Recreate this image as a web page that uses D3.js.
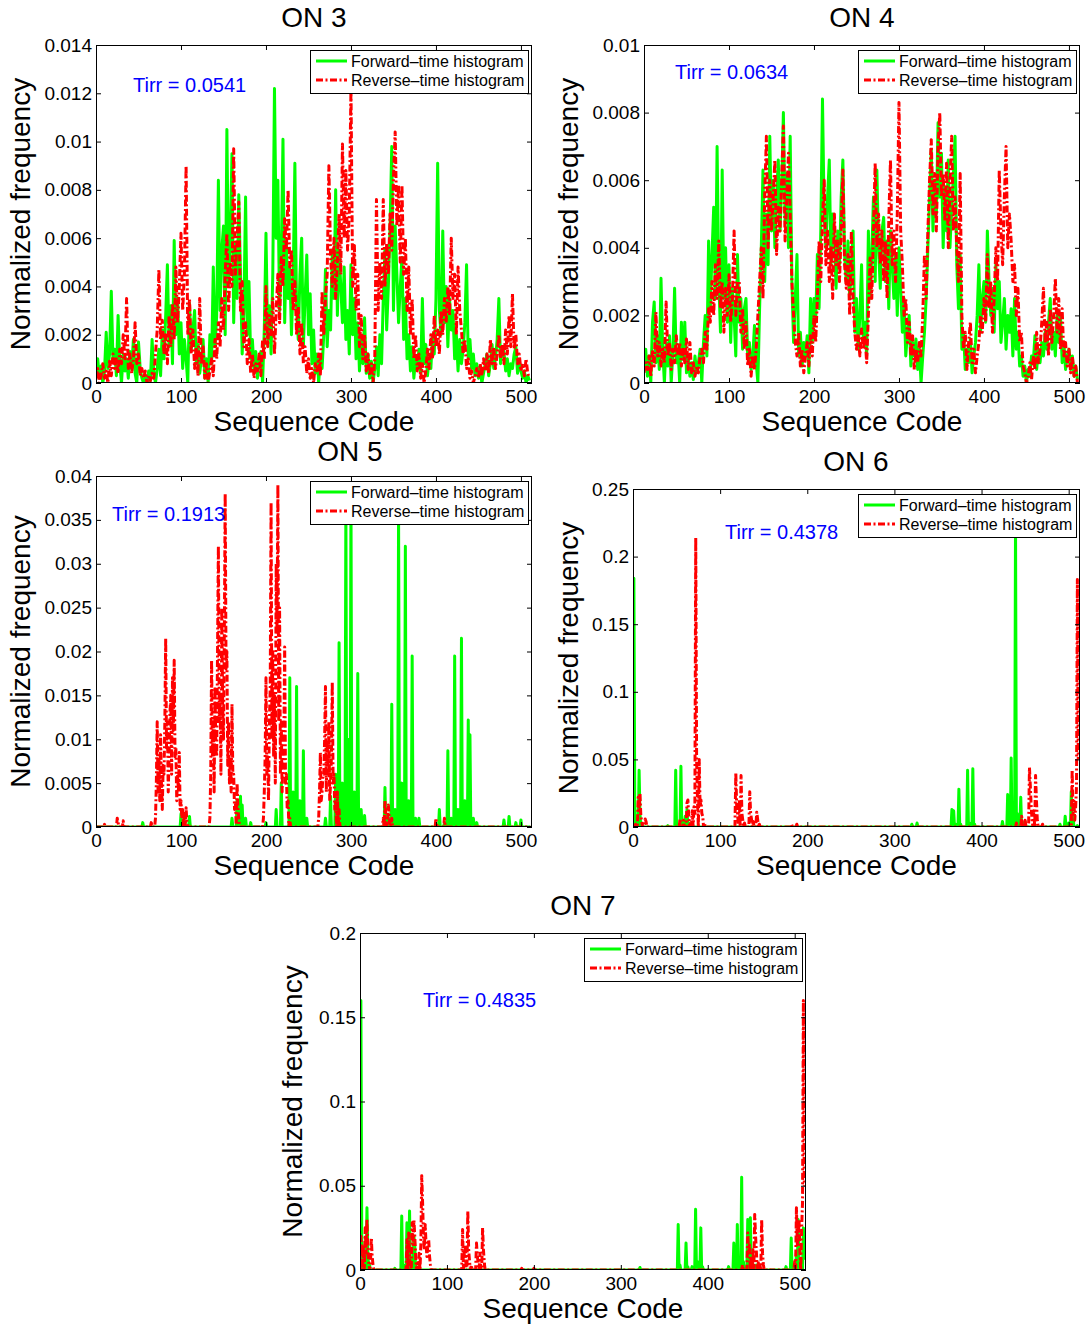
<!DOCTYPE html>
<html><head><meta charset="utf-8">
<script src="https://cdn.jsdelivr.net/npm/d3@7"></script>
<style>
body{margin:0;background:#fff}
text{font-family:"Liberation Sans",Arial,Helvetica,sans-serif;fill:#000}
</style></head>
<body><svg id="chart" width="1092" height="1326"></svg>
<script>
// ---------------- DATA ----------------
const titles = ["ON 3","ON 4","ON 5","ON 6","ON 7"];
const tirrValues = ["0.0541","0.0634","0.1913","0.4378","0.4835"];
const seriesNames = ["Forward\u2013time histogram","Reverse\u2013time histogram"];
const xTickValues = [0,100,200,300,400,500];
const xTickLabels = ["0","100","200","300","400","500"];
const on3YTicks = [0,0.002,0.004,0.006,0.008,0.01,0.012,0.014];
const on3YTickLabels = ["0","0.002","0.004","0.006","0.008","0.01","0.012","0.014"];
const on4YTicks = [0,0.002,0.004,0.006,0.008,0.01];
const on4YTickLabels = ["0","0.002","0.004","0.006","0.008","0.01"];
const on5YTicks = [0,0.005,0.01,0.015,0.02,0.025,0.03,0.035,0.04];
const on5YTickLabels = ["0","0.005","0.01","0.015","0.02","0.025","0.03","0.035","0.04"];
const on6YTicks = [0,0.05,0.1,0.15,0.2,0.25];
const on6YTickLabels = ["0","0.05","0.1","0.15","0.2","0.25"];
const on7YTicks = [0,0.05,0.1,0.15,0.2];
const on7YTickLabels = ["0","0.05","0.1","0.15","0.2"];

// Dense panels (ON 3, ON 4): values read at every second sequence code 0,2,...,510
const denseCodes = d3.range(0, 511, 2);
const on3Fwd = [
.0004,.001,.0002,.0007,0,.0005,.0021,.0006,.0012,.0038,
.0009,.0014,.0003,.0028,.0008,0,.0012,.0005,.001,.0002,
.0013,.0006,.0018,.0004,0,.0017,.0006,.0002,0,.0003,
0,.0005,.0001,.0018,.0004,0,.0006,.0014,.0003,.0022,
.001,.0028,.0049,.0015,.0032,.0008,.0059,.002,.0035,.0012,
.0025,.0006,.0018,.001,0,.0033,.0014,.0022,.003,.0008,
.0016,.0004,.001,.0018,.0002,.001,0,.002,.0008,.0048,
.0015,.0028,.0084,.003,.0055,.0065,.002,.0105,.004,.006,
.0095,.0025,.0058,.0035,.0078,.0045,.0012,.003,.0077,.002,
.0042,.001,.0018,.0005,.0013,.0002,.0009,.0013,0,.0022,
.0062,.0018,.0032,.0012,.0045,.0122,.006,.0084,.003,.0052,
.0101,.0025,.0058,.0035,.0048,.002,.0042,.0091,.003,.0018,
.0045,.006,.0015,.0035,.0053,.002,.0037,.0008,.0022,.0004,
.0012,0,.0011,.0006,.002,.0047,.0015,.003,.0022,.0055,
.0035,.008,.0028,.0055,.004,.0025,.0048,.0018,.003,.0012,
.0049,.002,.0035,.001,.0025,.0005,.0018,.0008,.0027,.0004,
.0012,.0002,.0009,0,.0006,.0015,.0003,.002,.0008,.0035,
.0055,.0022,.004,.0065,.0098,.003,.0065,.0045,.0025,.004,
.0052,.0018,.0035,.001,.002,.0005,.0015,.0002,.001,.0006,
.0014,.0004,.0035,.0008,.0016,.0003,.001,.0006,.002,.0012,
.0035,.0091,.003,.002,.0063,.0025,.004,.0015,.0035,.0022,
.003,.001,.002,.0005,.0018,.0008,.0014,.0025,.0049,.001,
.0018,.0006,.0012,.0003,.0008,.0002,.0006,0,.0004,.0008,
.0012,.0003,.0008,.0016,.0006,.001,.0018,.0035,.0008,.0014,
.0013,.0005,.001,.0003,.0008,.0006,.0012,.0015,.0004,.0008,
.0005,.0002,.0005,0,.0003,.0001];
const on3Rev = [
.0002,.0006,0,.0003,.0008,.0002,.0005,0,.0009,.0003,
.0012,.0006,.001,.0004,.0014,.0008,.002,.001,.0035,.0006,
.0012,.0004,.001,.0025,.0008,.0012,.0003,.0006,.0002,.0005,
0,.0003,.0001,.0004,.0002,.0012,.0022,.0047,.0018,.0026,
.0012,.002,.0008,.0028,.0015,.0033,.0018,.0048,.0025,.004,
.0062,.003,.0045,.009,.002,.0035,.0012,.0022,.0006,.0015,
.0003,.0035,.0008,.0015,.0002,.0008,0,.0005,.001,.0003,
.0018,.001,.0025,.0015,.0035,.0022,.0045,.0062,.003,.005,
.004,.0097,.0045,.006,.0075,.003,.0042,.0015,.0025,.0008,
.0018,.0004,.0012,.0002,.0008,.0005,.0012,.0003,.0018,.001,
.004,.0015,.0028,.002,.0035,.0012,.003,.0045,.0025,.0052,
.004,.0068,.0055,.008,.0048,.0055,.003,.0042,.002,.0032,
.0012,.0025,.0008,.0015,.0004,.001,.0002,.0006,0,.0008,
.0004,.0012,.0003,.0038,.002,.0035,.0045,.009,.0052,.004,
.006,.0035,.005,.007,.0045,.0099,.006,.0088,.0055,.007,
.0122,.004,.0057,.003,.0045,.0015,.0028,.001,.002,.0005,
.0012,.0003,.0008,0,.001,.0076,.003,.005,.0035,.0076,
.004,.0058,.0045,.007,.0055,.0085,.0104,.0065,.0082,.005,
.0082,.0045,.006,.003,.0048,.002,.0035,.001,.002,.0005,
.0012,.0002,.0008,0,.0005,.0014,.0006,.002,.001,.0028,
.0015,.0022,.0012,.003,.002,.0035,.0025,.004,.0028,.006,
.0035,.0045,.002,.0048,.003,.0022,.0012,.0018,.0006,.001,
.0002,.0005,0,.0003,.0006,.0002,.0008,.0003,.001,.0005,
.0012,.0004,.0018,.0008,.0015,.0006,.0012,.002,.001,.0016,
.0008,.0022,.0012,.0028,.0015,.0037,.0014,.002,.0008,.0012,
.0005,.0008,.0003,.001,.0004,.0002];
const on4Fwd = [
.0005,.001,.0002,.0008,0,.0018,.0024,.0006,.0014,.0004,
.0031,.001,0,.0012,.0005,.0014,0,.0009,.0028,.0006,
.001,0,.0018,.0007,.0018,.0003,.0008,.0002,.0006,.0001,
.0008,.0003,.0006,.001,0,.0012,.002,.0008,.0042,.0022,
.0038,.0052,.0025,.007,.003,.0015,.0063,.0025,.004,.0018,
.0035,.0012,.0028,.002,.0008,.0038,.0018,.0025,.001,.0022,
.0025,.0008,.0012,.0004,.0008,.0017,.0006,0,.0022,.004,
.0063,.003,.005,.0035,.0073,.0045,.006,.004,.0055,.0066,
.0045,.0058,.008,.0048,.0062,.004,.0073,.003,.0012,.0025,
.0038,.0008,.0015,.0005,.0012,.0008,.0014,.0003,.0025,.0012,
.0025,.0018,.0038,.0022,.0045,.0084,.005,.004,.0055,.0066,
.0035,.005,.0042,.0028,.0045,.0035,.0055,.0066,.0038,.003,
.0042,.0025,.0035,.0045,.0015,.0025,.001,.002,.0035,.0012,
.0018,.0008,.0045,.0025,.0038,.0055,.003,.0063,.004,.0028,
.0045,.0049,.003,.0042,.0022,.0045,.0035,.0025,.0038,.002,
.004,.0028,.0015,.0025,.0008,.0015,.002,.0005,.0012,.0008,
.0013,.0004,.001,0,.0008,.0015,.0025,.004,.0055,.0069,
.0045,.006,.005,.0077,.0055,.0068,.004,.0058,.0045,.0066,
.004,.0052,.0061,.0073,.0035,.0022,.0038,.001,.0015,.0004,
.001,.0006,.0013,.0003,.0008,.0012,.002,.0035,.0015,.0025,
.003,.0018,.0045,.003,.002,.0028,.0015,.0035,.0022,.003,
.0012,.0018,.0025,.001,.002,.0015,.0022,.0008,.0025,.001,
.0015,.0005,.0008,.0002,.0005,0,.0004,.0002,.0008,.0006,
.0014,.0004,.001,.0006,.0012,.0008,.0015,.001,.0018,.0025,
.001,.0015,.0008,.002,.0012,.002,.0006,.0012,.0004,.0008,
.001,.0004,.0008,.0002,.0005,.0001];
const on4Rev = [
.0003,.0006,.0004,.0008,.0002,.001,.0005,.0021,.0008,.0012,
.0005,.001,.0006,.0024,.0008,.0012,.0004,.001,.0006,.0014,
.0008,.0012,.0005,.001,.0006,.0013,.0004,.0012,.0003,.0006,
.0002,.0005,.0003,.0008,.001,.0006,.0015,.001,.0022,.0018,
.003,.002,.0035,.0025,.0042,.0022,.003,.0015,.0028,.002,
.0032,.0018,.0025,.0045,.002,.003,.003,.0015,.0022,.001,
.0018,.0005,.001,.0002,.0008,.0004,.001,.002,.003,.004,
.0025,.0055,.0073,.004,.006,.0045,.0055,.0066,.0038,.0052,
.0045,.006,.0076,.0042,.0055,.0068,.005,.003,.002,.0012,
.0008,.0015,.0005,.001,.0003,.0008,.0012,.0005,.0014,.0008,
.002,.0012,.0025,.0042,.003,.0048,.006,.0035,.0045,.003,
.004,.0025,.005,.0035,.0042,.003,.0045,.0063,.0035,.0028,
.0038,.002,.0045,.0025,.0015,.001,.0014,.0008,.0016,.001,
.0014,.0006,.002,.0037,.0025,.0045,.0065,.004,.005,.0035,
.0045,.003,.0042,.0025,.0048,.0066,.0035,.0045,.003,.005,
.0083,.0045,.0035,.002,.0025,.0012,.0018,.0008,.0014,.0004,
.001,.0006,.0012,.0008,.002,.0038,.0025,.0045,.006,.0072,
.005,.0062,.0045,.007,.008,.0055,.0062,.0048,.0065,.004,
.0058,.0073,.0045,.0055,.004,.003,.0062,.002,.001,.0015,
.0004,.0012,.0018,.0006,.001,.0003,.0008,.0012,.002,.0015,
.0025,.0018,.0038,.0022,.003,.0015,.0025,.004,.003,.0063,
.0045,.0035,.0055,.007,.004,.005,.0042,.003,.0035,.002,
.0028,.0012,.0015,.0005,.0003,0,.0002,.0006,.0001,.0008,
.0004,.0015,.0006,.001,.0018,.0028,.0012,.0018,.0008,.0022,
.0012,.002,.0031,.0015,.0025,.001,.0022,.0008,.0012,.0005,
.001,.0003,.0008,.0002,.0005,0];

// Sparse panels (ON 5, 6, 7): non-zero sequence codes and their values (all other codes are 0)
const on5FwdCodes = [55,100,110,160,166,170,172,176,182,200,212,218,228,232,236,240,244,248,270,276,282,286,290,294,298,300,304,308,312,316,340,344,348,352,356,360,364,368,372,376,380,404,410,414,418,422,426,430,434,438,440,444,448,480,486,494,500];
const on5FwdVals = [.0005,.0015,.0012,.001,.003,.0035,.0025,.001,.0005,.0005,.002,.005,.017,.004,.016,.003,.0087,.001,.001,.0035,.006,.021,.005,.037,.01,.038,.004,.0175,.002,.0013,.0045,.001,.014,.002,.036,.005,.032,.003,.0195,.001,.001,.002,.0005,.0087,.001,.0195,.002,.0215,.003,.0122,.0105,.001,.0005,.0008,.0012,.0005,.0008];
const on5RevCodes = [10,25,26,32,65,
70,71,72,73,74,75,76,77,78,79,80,81,82,83,84,85,86,87,88,89,90,91,92,93,94,95,96,97,98,99,100,101,102,104,106,107,
134,135,136,137,138,139,140,141,142,143,144,145,146,147,148,149,150,151,152,153,154,155,156,157,158,159,160,161,162,163,164,166,167,168,
197,198,199,200,201,202,203,204,205,206,207,208,209,210,211,212,213,214,215,216,217,218,219,220,221,222,223,224,225,226,228,
262,263,264,265,266,267,268,269,270,271,272,273,274,275,276,277,278,279,280,281,282,284,286,
338,340,341,344,345,348,400,410];
const on5RevVals = [.0003,.001,.0005,.0007,.0005,
.001,.005,.012,.004,.008,.003,.0105,.005,.002,.007,.006,.012,.0215,.009,.012,.004,.008,.013,.015,.006,.017,.011,.019,.008,.009,.003,.006,.004,.0085,.002,.003,.001,.002,.0015,.0022,.0005,
.001,.006,.019,.008,.012,.004,.016,.009,.008,.02,.032,.012,.015,.006,.025,.014,.01,.022,.038,.018,.02,.007,.012,.005,.008,.004,.014,.006,.006,.002,.003,.005,.002,.001,
.001,.004,.008,.017,.006,.008,.003,.012,.016,.037,.01,.02,.008,.015,.005,.03,.022,.039,.012,.025,.006,.012,.004,.008,.01,.0205,.005,.006,.002,.003,.001,
.001,.004,.0085,.003,.004,.006,.006,.01,.016,.004,.01,.006,.012,.003,.005,.008,.0165,.005,.006,.002,.003,.004,.002,
.001,.003,.001,.0025,.001,.001,.001,.001];
const on6FwdCodes = [1,2,4,7,8,10,40,49,51,55,57,60,62,64,320,326,366,368,370,374,376,384,386,390,392,424,430,432,434,436,439,441,445,447,450,490,496,500,503,505,510];
const on6FwdVals = [.184,.02,.005,.042,.01,.003,.001,.042,.002,.045,.004,.008,.013,.003,.002,.003,.013,.012,.002,.028,.002,.042,.003,.043,.002,.004,.024,.01,.051,.005,.225,.01,.022,.003,.004,.002,.008,.003,.026,.01,.001];
const on6RevCodes = [3,6,7,8,9,10,14,15,54,58,62,63,64,66,68,70,71,72,73,74,76,77,78,79,80,82,118,119,120,122,124,125,126,128,134,135,136,138,142,143,145,182,188,440,446,450,455,456,457,458,460,462,463,464,470,504,505,506,507,508,509,510,511];
const on6RevVals = [.002,.022,.012,.025,.008,.004,.006,.004,.006,.005,.018,.02,.008,.004,.012,.015,.01,.214,.05,.02,.05,.015,.02,.01,.008,.003,.04,.015,.01,.02,.038,.01,.005,.003,.026,.01,.006,.004,.011,.006,.002,.002,.002,.003,.008,.005,.044,.03,.015,.005,.012,.038,.02,.005,.002,.042,.01,.02,.005,.015,.03,.183,.05];
const on7FwdCodes = [1,2,4,6,8,9,11,40,48,50,54,57,59,62,63,65,322,366,368,375,377,382,386,388,392,394,424,430,432,434,436,439,441,446,448,449,451,456,490,496,498,502,504,506,510,511];
const on7FwdVals = [.16,.02,.005,.015,.037,.01,.003,.001,.032,.003,.028,.035,.004,.02,.015,.002,.0015,.027,.003,.016,.002,.002,.036,.005,.025,.002,.002,.016,.005,.027,.005,.055,.005,.03,.029,.031,.005,.003,.002,.019,.003,.01,.03,.005,.025,.006];
const on7RevCodes = [1,2,4,6,7,8,9,10,12,13,14,15,54,56,57,60,61,62,63,64,66,68,70,71,72,73,74,75,76,77,78,79,80,81,118,120,121,124,125,126,128,134,135,136,138,141,142,143,186,200,440,446,447,448,450,452,454,455,456,458,460,462,463,464,470,500,502,503,504,505,506,508,509,510,511];
const on7RevVals = [.02,.008,.015,.025,.01,.03,.012,.005,.003,.019,.008,.003,.018,.022,.008,.028,.015,.03,.02,.008,.004,.01,.015,.056,.04,.02,.012,.027,.015,.008,.015,.018,.008,.003,.024,.01,.015,.035,.012,.005,.003,.016,.008,.004,.01,.025,.012,.004,.001,.001,.003,.022,.01,.015,.008,.012,.033,.02,.01,.005,.003,.03,.01,.003,.001,.005,.037,.015,.02,.03,.01,.025,.04,.16,.05];

// ---------------- BUILD SERIES ----------------
const allCodes = d3.range(0, 512);
function dense(vals){ return denseCodes.map((c,i)=>[c, vals[i] ?? 0]); }
function sparse(codes, vals){
  const m = new Map(codes.map((c,i)=>[c, vals[i]]));
  return allCodes.map(c=>[c, m.has(c) ? m.get(c) : 0]);
}

// ---------------- LAYOUT ----------------
const panels = [
  {title:titles[0], tirr:tirrValues[0], fwd:dense(on3Fwd), rev:dense(on3Rev), yTicks:on3YTicks, yLabels:on3YTickLabels,
   L:96, T:45, R:532, B:383, titleX:314, titleY:27, ylabX:30, tirrX:133, tirrY:85},
  {title:titles[1], tirr:tirrValues[1], fwd:dense(on4Fwd), rev:dense(on4Rev), yTicks:on4YTicks, yLabels:on4YTickLabels,
   L:644, T:45, R:1080, B:383, titleX:862, titleY:27, ylabX:578, tirrX:675, tirrY:72},
  {title:titles[2], tirr:tirrValues[2], fwd:sparse(on5FwdCodes,on5FwdVals), rev:sparse(on5RevCodes,on5RevVals), yTicks:on5YTicks, yLabels:on5YTickLabels,
   L:96, T:476, R:532, B:827, titleX:350, titleY:461, ylabX:30, tirrX:112, tirrY:514},
  {title:titles[3], tirr:tirrValues[3], fwd:sparse(on6FwdCodes,on6FwdVals), rev:sparse(on6RevCodes,on6RevVals), yTicks:on6YTicks, yLabels:on6YTickLabels,
   L:633, T:489, R:1080, B:827, titleX:856, titleY:471, ylabX:578, tirrX:725, tirrY:532},
  {title:titles[4], tirr:tirrValues[4], fwd:sparse(on7FwdCodes,on7FwdVals), rev:sparse(on7RevCodes,on7RevVals), yTicks:on7YTicks, yLabels:on7YTickLabels,
   L:360, T:933, R:806, B:1270, titleX:583, titleY:915, ylabX:302, tirrX:423, tirrY:1000}
];

const svg = d3.select("#chart");
svg.append("rect").attr("width",1092).attr("height",1326).attr("fill","#fff");
const GREEN = "#00ff00", RED = "#ff0000", LW = 3, DASH = "7,2.5,2,2.5";

panels.forEach((p, pi) => {
  const g = svg.append("g");
  const x = d3.scaleLinear().domain([0, 513]).range([p.L, p.R]);
  const y = d3.scaleLinear().domain([0, p.yTicks[p.yTicks.length-1]]).range([p.B, p.T]);
  const clipId = "clip" + pi;
  g.append("clipPath").attr("id", clipId).append("rect")
    .attr("x", p.L).attr("y", p.T).attr("width", p.R - p.L).attr("height", p.B - p.T);

  const line = d3.line().x(d => x(d[0])).y(d => y(d[1]));
  const plot = g.append("g").attr("clip-path", `url(#${clipId})`);
  plot.append("path").datum(p.fwd).attr("d", line)
    .attr("fill","none").attr("stroke",GREEN).attr("stroke-width",LW).attr("stroke-linejoin","round");
  plot.append("path").datum(p.rev).attr("d", line)
    .attr("fill","none").attr("stroke",RED).attr("stroke-width",LW).attr("stroke-dasharray",DASH).attr("stroke-linejoin","round");

  // axes (MATLAB style: ticks inside, mirrored on top/right)
  const ax = (sel) => { sel.select(".domain").remove(); sel.selectAll("line").attr("stroke","#000"); };
  g.append("g").attr("transform",`translate(0,${p.B})`)
    .call(d3.axisBottom(x).tickValues(xTickValues).tickFormat((d,i)=>xTickLabels[i]).tickSizeInner(-5).tickSizeOuter(0).tickPadding(7))
    .call(ax).selectAll("text").attr("font-size",19).attr("font-family","Liberation Sans, Arial, sans-serif");
  g.append("g").attr("transform",`translate(0,${p.T})`)
    .call(d3.axisTop(x).tickValues(xTickValues).tickFormat("").tickSizeInner(-5).tickSizeOuter(0)).call(ax);
  g.append("g").attr("transform",`translate(${p.L},0)`)
    .call(d3.axisLeft(y).tickValues(p.yTicks).tickFormat((d,i)=>p.yLabels[i]).tickSizeInner(-5).tickSizeOuter(0).tickPadding(4))
    .call(ax).selectAll("text").attr("font-size",19).attr("font-family","Liberation Sans, Arial, sans-serif");
  g.append("g").attr("transform",`translate(${p.R},0)`)
    .call(d3.axisRight(y).tickValues(p.yTicks).tickFormat("").tickSizeInner(-5).tickSizeOuter(0)).call(ax);
  g.append("rect").attr("x",p.L+0.5).attr("y",p.T+0.5).attr("width",p.R-p.L-1).attr("height",p.B-p.T-1)
    .attr("fill","none").attr("stroke","#000").attr("stroke-width",1);

  // title and axis labels
  g.append("text").attr("x",p.titleX).attr("y",p.titleY).attr("text-anchor","middle").attr("font-size",28).text(p.title);
  g.append("text").attr("x",(p.L+p.R)/2).attr("y",p.B+48).attr("text-anchor","middle").attr("font-size",28).text("Sequence Code");
  g.append("text").attr("transform",`translate(${p.ylabX},${(p.T+p.B)/2}) rotate(-90)`)
    .attr("text-anchor","middle").attr("font-size",28).text("Normalized frequency");

  // Tirr annotation
  g.append("text").attr("x",p.tirrX).attr("y",p.tirrY+7).attr("font-size",20).style("fill","#0000ff").text("Tirr = " + p.tirr);

  // legend
  const lw = 218, lh = 43;
  const lx = p.R - 4 - lw, ly = p.T + 5;
  const leg = g.append("g");
  leg.append("rect").attr("x",lx+0.5).attr("y",ly+0.5).attr("width",lw).attr("height",lh)
    .attr("fill","#fff").attr("stroke","#000").attr("stroke-width",1);
  [[GREEN,null],[RED,DASH]].forEach((s, k) => {
    const yy = ly + 11 + k*19;
    leg.append("line").attr("x1",lx+6).attr("x2",lx+37).attr("y1",yy).attr("y2",yy)
      .attr("stroke",s[0]).attr("stroke-width",LW).attr("stroke-dasharray",s[1]);
    leg.append("text").attr("x",lx+41).attr("y",yy+6).attr("font-size",16).text(seriesNames[k]);
  });
});
</script>
</body></html>
